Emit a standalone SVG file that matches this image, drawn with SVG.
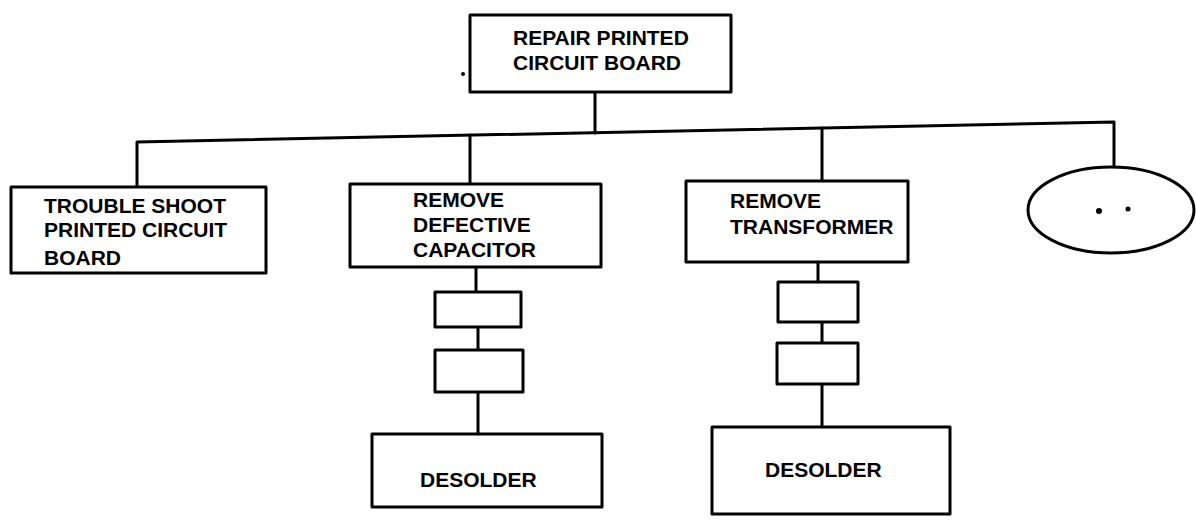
<svg xmlns="http://www.w3.org/2000/svg" width="1196" height="521" viewBox="0 0 1196 521">
<style>
.box{fill:#fff;stroke:#000;stroke-width:3;stroke-linejoin:round}
.ln{fill:none;stroke:#000;stroke-width:3;stroke-linecap:round;stroke-linejoin:round}
.t{font-family:"Liberation Sans",Arial,sans-serif;font-weight:bold;font-size:21px;fill:#000}
</style>
<rect width="1196" height="521" fill="#fff"/>
<g id="connectors">
<path class="ln" d="M137,186 V142 L1114,122 V165"/>
<path class="ln" d="M595,92 V133"/>
<path class="ln" d="M470,135 V184"/>
<path class="ln" d="M822,128 V181"/>
<path class="ln" d="M476,267 V292"/>
<path class="ln" d="M478,327 V350"/>
<path class="ln" d="M478,392 V434"/>
<path class="ln" d="M818,262 V282"/>
<path class="ln" d="M822,322 V343"/>
<path class="ln" d="M822,384 V427"/>
</g>
<g id="repair">
<rect class="box" x="470" y="15" width="261" height="77"/>
<text class="t" x="513" y="45">REPAIR PRINTED</text>
<text class="t" x="513" y="70">CIRCUIT BOARD</text>
</g>
<g id="troubleshoot">
<rect class="box" x="11" y="187" width="255" height="86"/>
<text class="t" x="44" y="213">TROUBLE SHOOT</text>
<text class="t" x="44" y="237">PRINTED CIRCUIT</text>
<text class="t" x="44" y="265">BOARD</text>
</g>
<g id="capacitor">
<rect class="box" x="350" y="184" width="251" height="83"/>
<text class="t" x="413" y="207">REMOVE</text>
<text class="t" x="413" y="232">DEFECTIVE</text>
<text class="t" x="413" y="257">CAPACITOR</text>
</g>
<g id="cap-step1"><rect class="box" x="435" y="292" width="86" height="35"/></g>
<g id="cap-step2"><rect class="box" x="435" y="350" width="88" height="42"/></g>
<g id="cap-desolder">
<rect class="box" x="372" y="434" width="230" height="73"/>
<text class="t" x="420" y="487">DESOLDER</text>
</g>
<g id="transformer">
<rect class="box" x="686" y="181" width="222" height="81"/>
<text class="t" x="730" y="208">REMOVE</text>
<text class="t" x="730" y="234">TRANSFORMER</text>
</g>
<g id="tr-step1"><rect class="box" x="778" y="282" width="80" height="40"/></g>
<g id="tr-step2"><rect class="box" x="777" y="343" width="81" height="41"/></g>
<g id="tr-desolder">
<rect class="box" x="712" y="427" width="238" height="87"/>
<text class="t" x="765" y="477">DESOLDER</text>
</g>
<g id="more">
<ellipse class="box" cx="1111" cy="210" rx="83" ry="43"/>
<circle cx="1099" cy="211" r="3" fill="#000"/>
<circle cx="1128" cy="209" r="2.5" fill="#000"/>
</g>
<circle cx="463" cy="74" r="2" fill="#000"/>
</svg>
